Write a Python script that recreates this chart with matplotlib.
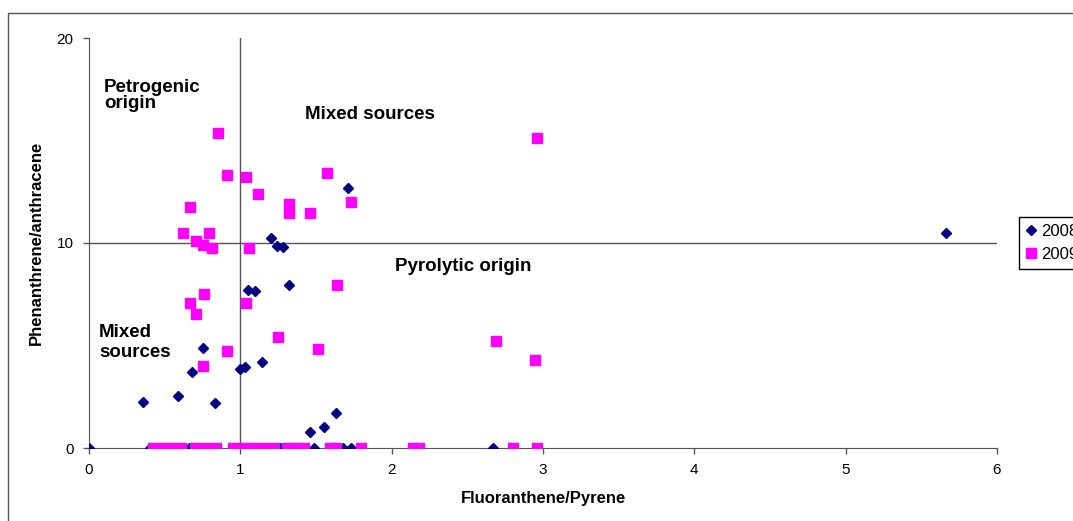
import matplotlib
matplotlib.use('Agg')
import matplotlib.pyplot as plt
from matplotlib.patches import Rectangle

plt.rcParams['font.family'] = ['Liberation Sans', 'DejaVu Sans']

# 2008 series (diamonds)
x_2008 = [0.36, 0.59, 0.83, 0.68, 0.75, 1.00, 1.03, 1.14, 1.05, 1.10, 1.32,
          1.20, 1.24, 1.28, 1.71, 1.46, 1.55, 1.63, 5.66,
          0.0, 0.40, 0.66, 0.82, 1.26, 1.41, 1.49, 1.68, 1.73, 2.67]
y_2008 = [2.24, 2.54, 2.2, 3.7, 4.9, 3.85, 3.95, 4.2, 7.7, 7.65, 7.95,
          10.25, 9.85, 9.8, 12.7, 0.78, 1.02, 1.7, 10.5,
          0, 0, 0, 0, 0, 0, 0, 0, 0, 0]

# 2009 series (squares)
x_2009 = [0.85, 0.91, 1.04, 1.12, 1.57, 1.73, 1.32, 1.32, 1.46, 0.67, 0.62,
          0.79, 0.71, 0.75, 0.81, 1.06, 1.64, 0.76, 0.67, 1.04, 0.71, 1.25,
          0.91, 1.51, 0.75, 2.96, 2.69, 2.95,
          0.42, 0.49, 0.55, 0.61, 0.70, 0.77, 0.84, 0.95, 1.02, 1.08, 1.15,
          1.22, 1.31, 1.36, 1.42, 1.59, 1.63, 1.80, 2.14, 2.18, 2.80, 2.96]
y_2009 = [15.37, 13.3, 13.2, 12.4, 13.4, 12.0, 11.9, 11.45, 11.45, 11.75, 10.5,
          10.5, 10.1, 9.9, 9.75, 9.75, 7.95, 7.5, 7.07, 7.07, 6.55, 5.4,
          4.75, 4.83, 4.0, 15.1, 5.2, 4.3,
          0, 0, 0, 0, 0, 0, 0, 0, 0, 0, 0,
          0, 0, 0, 0, 0, 0, 0, 0, 0, 0, 0]

x_ticks = [0, 1, 2, 3, 4, 5, 6]
y_ticks = [0, 10, 20]

fig = plt.figure(figsize=(10.73, 5.21), dpi=100)
ax = fig.add_axes([89/1073, 1-448/521, (997-89)/1073, (448-38)/521])

# chart border
fig.patches.append(Rectangle((8/1073, -0.1), 1.2, 1-13/521+0.1, transform=fig.transFigure,
                             fill=False, edgecolor='#555555', linewidth=1.0))

ax.axvline(1, color='#555555', linewidth=1.0, zorder=1)
ax.axhline(10, color='#555555', linewidth=1.0, zorder=1)

ax.plot(x_2008, y_2008, linestyle='none', marker='D', markersize=5.5,
        color='#000080', label='2008', zorder=3)
ax.plot(x_2009, y_2009, linestyle='none', marker='s', markersize=7,
        color='#FF00FF', label='2009', zorder=4)

ax.set_xlim(0, 6)
ax.set_ylim(0, 20)
ax.set_xticks(x_ticks)
ax.set_yticks(y_ticks)
ax.tick_params(direction='out', length=4, width=1, pad=7, colors='#555555',
               labelcolor='black', labelsize=11)
for s in ['top', 'right']:
    ax.spines[s].set_visible(False)
for s in ['left', 'bottom']:
    ax.spines[s].set_color('#555555')
ax.set_xlabel('Fluoranthene/Pyrene', fontsize=12, fontweight='bold', labelpad=10)
ax.set_ylabel('Phenanthrene/anthracene', fontsize=12, fontweight='bold', labelpad=9)

ax.text(0.1, 17.2, 'Petrogenic\norigin', fontsize=13.5, fontweight='bold', va='center', linespacing=0.95)
ax.text(1.43, 16.29, 'Mixed sources', fontsize=13.5, fontweight='bold', va='center')
ax.text(2.02, 8.83, 'Pyrolytic origin', fontsize=13.5, fontweight='bold', va='center')
ax.text(0.066, 5.15, 'Mixed\nsources', fontsize=13.5, fontweight='bold', va='center', linespacing=1.25)

ax.legend(loc='upper left', bbox_to_anchor=(1019/1073, 1-217/521), bbox_transform=fig.transFigure,
          fancybox=False, edgecolor='black', framealpha=1, fontsize=12, handlelength=0.6,
          handletextpad=0.3, borderpad=0.4, labelspacing=0.5, borderaxespad=0)

fig.savefig('out.png', dpi=100)
